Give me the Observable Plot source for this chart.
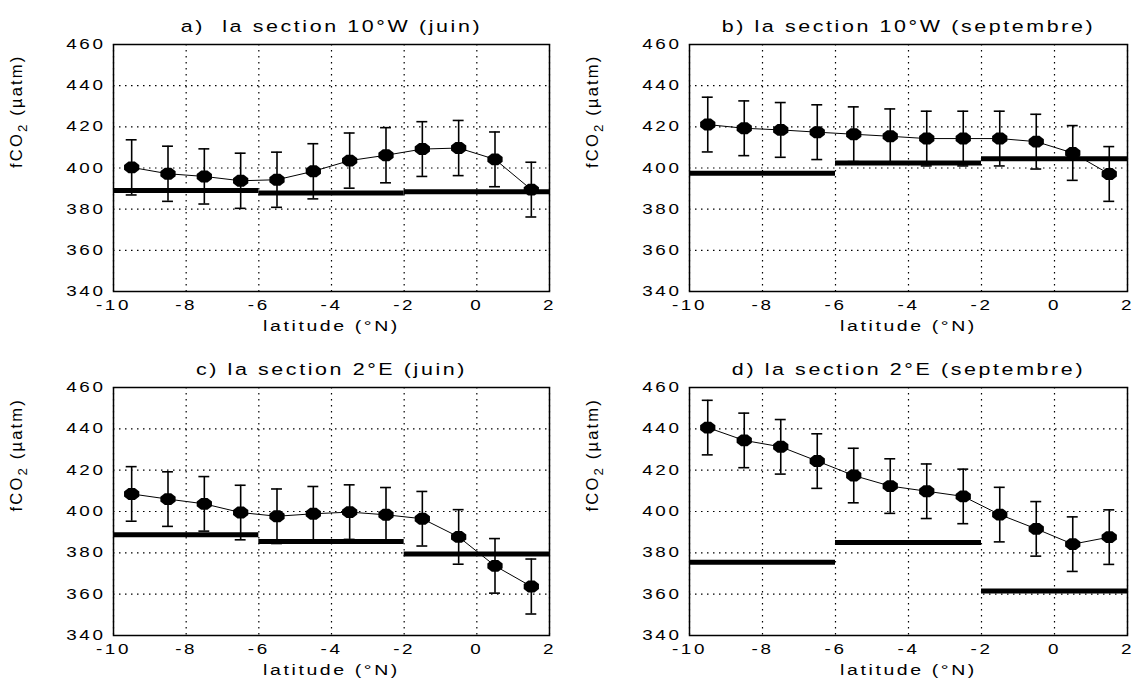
<!DOCTYPE html>
<html>
<head>
<meta charset="utf-8">
<script src="https://cdn.jsdelivr.net/npm/d3@7"></script>
<script src="https://cdn.jsdelivr.net/npm/@observablehq/plot@0.6"></script>
<style>
  html, body { margin: 0; padding: 0; background: #fff; }
  #root { position: relative; width: 1134px; height: 681px; overflow: hidden; background: #fff; }
  .panel { position: absolute; }
  .panel svg { font-family: "Liberation Sans", Arial, Helvetica, sans-serif; overflow: visible; }
  .panel svg text { letter-spacing: 2px; white-space: pre; }
</style>
</head>
<body>
<div id="root"></div>
<script>
// ---- data ----
const latitudes = [-9.5, -8.5, -7.5, -6.5, -5.5, -4.5, -3.5, -2.5, -1.5, -0.5, 0.5, 1.5];

const fco2_10W_juin = [400.3, 397.2, 395.9, 393.8, 394.3, 398.4, 403.6, 406.2, 409.2, 409.7, 404.2, 389.5];
const err_10W_juin  = [13.4, 13.4, 13.4, 13.4, 13.4, 13.4, 13.4, 13.4, 13.3, 13.4, 13.3, 13.3];

const fco2_10W_sept = [421.1, 419.3, 418.5, 417.4, 416.4, 415.4, 414.3, 414.3, 414.3, 412.8, 407.3, 397.1];
const err_10W_sept  = [13.3, 13.3, 13.3, 13.3, 13.3, 13.3, 13.3, 13.3, 13.3, 13.3, 13.3, 13.3];

const fco2_2E_juin = [408.5, 406.0, 403.7, 399.5, 397.7, 398.9, 399.7, 398.4, 396.5, 387.7, 373.7, 363.7];
const err_2E_juin  = [13.2, 13.2, 13.2, 13.2, 13.2, 13.2, 13.2, 13.2, 13.2, 13.2, 13.2, 13.3];

const fco2_2E_sept = [440.6, 434.4, 431.3, 424.4, 417.4, 412.3, 409.8, 407.3, 398.5, 391.6, 384.2, 387.6];
const err_2E_sept  = [13.2, 13.2, 13.2, 13.2, 13.2, 13.2, 13.2, 13.2, 13.2, 13.2, 13.2, 13.2];

// thick horizontal reference segments (latitude bands)
const bandStart = [-10, -6, -2];
const bandEnd   = [-6, -2, 2];
const band_10W_juin = [389.1, 387.8, 388.5];
const band_10W_sept = [397.4, 402.4, 404.5];
const band_2E_juin  = [388.7, 385.5, 379.4];
const band_2E_sept  = [375.5, 385.0, 361.5];

const titles = [
  "a)  la section 10°W (juin)",
  "b) la section 10°W (septembre)",
  "c) la section 2°E (juin)",
  "d) la section 2°E (septembre)"
];
const xLabel = "latitude (°N)";
const yLabel = "fCO2 (µatm)";
const xTicks = [-10, -8, -6, -4, -2, 0, 2];
const yTicks = [340, 360, 380, 400, 420, 440, 460];
const xDomain = [-10, 2];
const yDomain = [340, 460];

// ---- layout ----
const panels = [
  {title: titles[0], values: fco2_10W_juin, errors: err_10W_juin, bands: band_10W_juin,
   left: 0,   top: 0,   width: 567, height: 340, mL: 113, mR: 18, mT: 44, mB: 49},
  {title: titles[1], values: fco2_10W_sept, errors: err_10W_sept, bands: band_10W_sept,
   left: 567, top: 0,   width: 567, height: 340, mL: 122, mR: 7,  mT: 44, mB: 49},
  {title: titles[2], values: fco2_2E_juin, errors: err_2E_juin, bands: band_2E_juin,
   left: 0,   top: 340, width: 567, height: 341, mL: 113, mR: 18, mT: 47, mB: 46},
  {title: titles[3], values: fco2_2E_sept, errors: err_2E_sept, bands: band_2E_sept,
   left: 567, top: 340, width: 567, height: 341, mL: 122, mR: 7,  mT: 47, mB: 46}
];

// stretched octagon marker, like the reference's wide dots
const octagon = {
  draw(context, size) {
    const r = Math.sqrt(size / Math.PI);
    const rx = r * 1.18, ry = r * 0.92;
    for (let k = 0; k < 8; k++) {
      const a = Math.PI / 8 + k * Math.PI / 4;
      const px = rx * Math.cos(a), py = ry * Math.sin(a);
      if (k === 0) context.moveTo(px, py); else context.lineTo(px, py);
    }
    context.closePath();
  }
};

const fmt = d => `${d}`;
const root = document.getElementById("root");

for (const p of panels) {
  const rows = latitudes.map((x, i) => ({x, y: p.values[i], lo: p.values[i] - p.errors[i], hi: p.values[i] + p.errors[i]}));
  const bands = bandStart.map((x1, i) => ({x1, x2: bandEnd[i], y: p.bands[i]}));
  const capHalf = 0.15;

  const svg = Plot.plot({
    width: p.width,
    height: p.height,
    marginLeft: p.mL,
    marginRight: p.mR,
    marginTop: p.mT,
    marginBottom: p.mB,
    style: {background: "white", color: "black", fontSize: "14px", fontFamily: '"Liberation Sans", Arial, sans-serif'},
    x: {domain: xDomain},
    y: {domain: yDomain},
    marks: [
      Plot.gridX(xTicks, {stroke: "black", strokeOpacity: 1, strokeWidth: 1.2, strokeDasharray: "1.5,4.5"}),
      Plot.gridY(yTicks, {stroke: "black", strokeOpacity: 1, strokeWidth: 1.2, strokeDasharray: "1.5,4.5"}),
      Plot.axisX(xTicks, {tickSize: 0, tickPadding: 8, tickFormat: fmt, label: null, fontSize: 14.5}),
      Plot.axisY(yTicks, {tickSize: 0, tickPadding: 8, tickFormat: fmt, label: null, fontSize: 14.5}),
      Plot.ruleY(bands, {x1: "x1", x2: "x2", y: "y", stroke: "black", strokeWidth: 5}),
      Plot.line(rows, {x: "x", y: "y", stroke: "black", strokeWidth: 1}),
      Plot.ruleX(rows, {x: "x", y1: "lo", y2: "hi", stroke: "black", strokeWidth: 1.6}),
      Plot.ruleY(rows, {x1: d => d.x - capHalf, x2: d => d.x + capHalf, y: "lo", stroke: "black", strokeWidth: 1.6}),
      Plot.ruleY(rows, {x1: d => d.x - capHalf, x2: d => d.x + capHalf, y: "hi", stroke: "black", strokeWidth: 1.6}),
      Plot.dot(rows, {x: "x", y: "y", r: 7, fill: "black", stroke: "none", symbol: octagon}),
      Plot.frame({stroke: "black", strokeWidth: 1.5}),
      Plot.text([p.title], {text: d => d, frameAnchor: "top", dy: -18, lineAnchor: "middle", fontSize: 16.5}),
      Plot.text([xLabel], {text: d => d, frameAnchor: "bottom", dy: 35, lineAnchor: "middle", fontSize: 15}),
      Plot.text([yLabel], {text: d => d, frameAnchor: "left", dx: -97, rotate: -90, lineAnchor: "middle", fontSize: 15})
    ]
  });

  // widen text horizontally like the reference rendering; subscript the 2 in fCO2
  svg.querySelectorAll("text").forEach(t => {
    const tr = t.getAttribute("transform") || "";
    if (t.textContent === yLabel) {
      t.textContent = "";
      t.appendChild(document.createTextNode("fCO"));
      const sub = document.createElementNS("http://www.w3.org/2000/svg", "tspan");
      sub.setAttribute("dy", "5");
      sub.setAttribute("font-size", "12");
      sub.textContent = "2";
      t.appendChild(sub);
      const rest = document.createElementNS("http://www.w3.org/2000/svg", "tspan");
      rest.setAttribute("dy", "-5");
      rest.textContent = " (µatm)";
      t.appendChild(rest);
      t.setAttribute("transform", tr + " scale(1.1,1.1)");
      return;
    }
    if (tr.includes("rotate")) return;
    t.setAttribute("transform", tr + " scale(1.3,1)");
  });

  const div = document.createElement("div");
  div.className = "panel";
  div.style.left = p.left + "px";
  div.style.top = p.top + "px";
  div.appendChild(svg);
  root.appendChild(div);
}
</script>
</body>
</html>
